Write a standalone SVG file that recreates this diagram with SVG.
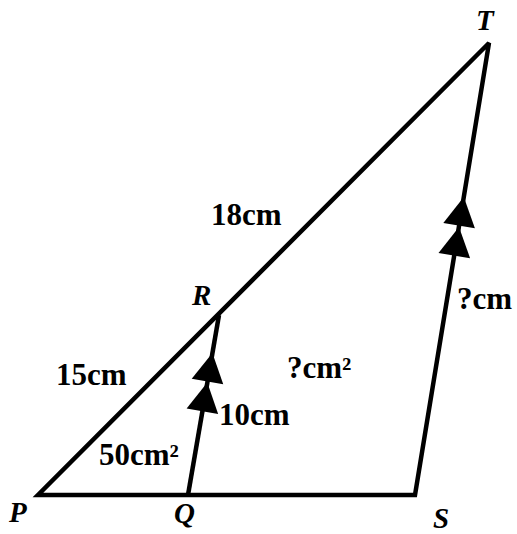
<svg xmlns="http://www.w3.org/2000/svg" width="517" height="534" viewBox="0 0 517 534">
<style>
.edge{fill:none;stroke:#000;stroke-width:4.5;stroke-linejoin:miter;stroke-miterlimit:3}
.lbl{font-family:"Liberation Serif","Times New Roman",serif;font-weight:bold;font-size:31px;fill:#000}
.pt{font-family:"Liberation Serif","Times New Roman",serif;font-weight:bold;font-style:italic;font-size:29px;fill:#000}
</style>
<defs>
<path id="ah" d="M0,0 L-29,-16 L-29,16 Z" fill="#000"/>
</defs>
<rect width="517" height="534" fill="#fff"/>
<g id="connectors">
<polygon class="edge" points="38,495 415,495 489,43"/>
<line class="edge" x1="188" y1="495" x2="219" y2="315"/>
<use href="#ah" transform="translate(212.4,353) rotate(-80.23)"/>
<use href="#ah" transform="translate(207.3,382.6) rotate(-80.23)"/>
<use href="#ah" transform="translate(463.8,197) rotate(-80.7)"/>
<use href="#ah" transform="translate(459,227) rotate(-80.7)"/>
</g>
<g id="node-P"><text class="pt" x="9" y="522">P</text></g>
<g id="node-Q"><text class="pt" x="174" y="523">Q</text></g>
<g id="node-S"><text class="pt" x="433" y="528">S</text></g>
<g id="node-T"><text class="pt" x="476" y="30">T</text></g>
<g id="node-R"><text class="pt" x="192" y="305">R</text></g>
<g id="labels">
<text class="lbl" x="211" y="225">18cm</text>
<text class="lbl" x="457" y="309">?cm</text>
<text class="lbl" x="287" y="378">?cm²</text>
<text class="lbl" x="56" y="385">15cm</text>
<text class="lbl" x="219" y="425">10cm</text>
<text class="lbl" x="99" y="465">50cm²</text>
</g>
</svg>
